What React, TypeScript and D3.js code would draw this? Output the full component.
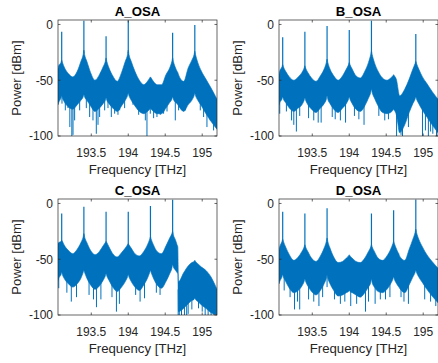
import React from "react";
import * as d3 from "d3";

const freqGrid = [
  193.05, 193.06, 193.09, 193.1, 193.11, 193.14, 193.19, 193.25, 193.31, 193.36,
  193.39, 193.4, 193.41, 193.44, 193.49, 193.55, 193.61, 193.66, 193.69, 193.7,
  193.71, 193.74, 193.79, 193.85, 193.91, 193.96, 193.99, 194.0, 194.01, 194.04,
  194.09, 194.15, 194.21, 194.26, 194.29, 194.3, 194.31, 194.34, 194.39, 194.45,
  194.51, 194.56, 194.59, 194.6, 194.61, 194.64, 194.66, 194.67, 194.68, 194.75,
  194.81, 194.86, 194.89, 194.9, 194.91, 194.94, 194.99, 195.05, 195.12, 195.2,
];

const aTop = [
  -40, -37, -34, -32, -34, -39, -44, -47, -42, -33,
  -27, -23, -27, -33, -43, -50, -45, -38, -33, -30,
  -33, -39, -46, -51, -43, -33, -27, -23, -27, -33,
  -42, -50, -54, -51, -48, -47, -48, -51, -54, -54,
  -45, -39, -33, -30, -33, -39, -42, -43, -45, -51,
  -39, -32, -27, -24, -27, -34, -42, -49, -57, -67,
];
const aBottom = [
  -72, -70, -66, -64, -66, -70, -74, -76, -72, -68,
  -65, -63, -65, -68, -73, -78, -75, -71, -68, -66,
  -68, -71, -75, -78, -73, -68, -64, -62, -64, -68,
  -73, -78, -80, -78, -76, -75, -76, -78, -80, -80,
  -75, -70, -67, -65, -67, -70, -71, -72, -73, -78,
  -72, -68, -64, -62, -64, -68, -73, -80, -87, -94,
];
const aPeakFreq = [193.1, 193.4, 193.7, 194.0, 194.6, 194.9];
const aPeakDb = [-6.5, 3.4, -10.5, 3.4, -7.5, -0.5];
const aSpikeFreq = [193.104, 193.149, 193.185, 193.21, 193.237, 193.253, 193.275, 193.343, 193.433, 193.478, 193.523, 193.568, 193.591, 193.613, 193.681, 193.726, 193.771, 193.816, 193.861, 193.884, 193.951, 194.064, 194.109, 194.141, 194.186, 194.231, 194.253, 194.298, 194.343, 194.388, 194.433, 194.478, 194.524, 194.636, 194.681, 194.726, 194.771, 194.974, 195.019, 195.064, 195.109, 195.154, 195.19];
const aSpikeDb = [-71, -77, -75, -92, -101, -99, -86, -77, -75, -83, -86, -98, -90, -83, -77, -75, -83, -80, -81, -77, -75, -72, -74, -81, -75, -86, -101, -80, -84, -83, -81, -80, -78, -86, -77, -75, -77, -77, -83, -92, -86, -95, -92];

const bTop = [
  -45, -42, -38, -36, -38, -42, -47, -50, -47, -43,
  -39, -37, -39, -43, -48, -51, -46, -40, -34, -31,
  -34, -40, -46, -50, -46, -40, -36, -34, -36, -40,
  -46, -48, -42, -34, -27, -24, -27, -34, -42, -48,
  -50, -48, -46, -45, -46, -50, -58, -62, -64, -58,
  -49, -40, -35, -33, -35, -40, -47, -53, -60, -67,
];
const bBottom = [
  -72, -70, -67, -65, -67, -70, -75, -78, -75, -72,
  -68, -66, -68, -72, -76, -79, -75, -71, -67, -64,
  -67, -71, -76, -79, -75, -71, -67, -65, -67, -71,
  -76, -78, -73, -66, -61, -58, -61, -66, -73, -79,
  -80, -79, -77, -76, -77, -82, -90, -95, -97, -90,
  -79, -71, -67, -65, -67, -71, -77, -83, -90, -97,
];
const bPeakFreq = [193.1, 193.4, 193.7, 194.0, 194.3, 194.9];
const bPeakDb = [-11.5, -6.5, -1.4, -5, 3.4, -8.6];
const bSpikeFreq = [193.06, 193.15, 193.22, 193.25, 193.285, 193.33, 193.45, 193.52, 193.58, 193.62, 193.77, 193.81, 193.88, 193.95, 194.07, 194.13, 194.2, 194.4, 194.48, 194.53, 194.64, 194.7, 194.72, 194.8, 194.99, 195.03, 195.07, 195.1, 195.13, 195.18];
const bSpikeDb = [-80, -78, -86, -90, -96, -82, -84, -86, -88, -88, -83, -85, -86, -88, -82, -85, -90, -82, -86, -85, -101, -99, -101, -92, -100, -95, -101, -96, -98, -101];

const cTop = [
  -36, -35, -34, -33, -34, -38, -42, -45, -41, -35,
  -30, -27, -30, -35, -42, -46, -43, -38, -35, -34,
  -35, -39, -45, -48, -44, -40, -37, -36, -37, -40,
  -45, -47, -43, -37, -32, -30, -32, -37, -43, -45,
  -38, -31, -27, -25, -28, -33, -37, -39, -70, -62,
  -56, -53, -52, -51, -52, -54, -57, -60, -66, -77,
];
const cBottom = [
  -69, -67, -64, -62, -64, -68, -72, -75, -72, -67,
  -62, -60, -62, -67, -73, -77, -74, -69, -65, -63,
  -65, -69, -75, -79, -75, -70, -66, -64, -66, -70,
  -75, -78, -73, -67, -62, -60, -62, -67, -73, -76,
  -70, -63, -58, -55, -57, -60, -62, -63, -97, -94,
  -90, -87, -86, -85, -86, -88, -91, -94, -98, -100,
];
const cPeakFreq = [193.1, 193.4, 193.7, 194.0, 194.3, 194.6];
const cPeakDb = [-9, -3, -7.5, -7.5, -2.3, 3.4];
const cSpikeFreq = [193.06, 193.17, 193.23, 193.3, 193.47, 193.53, 193.57, 193.63, 193.78, 193.84, 193.88, 194.1, 194.16, 194.22, 194.38, 194.43, 194.675, 194.69, 194.72, 194.76, 194.79, 194.81, 194.86, 194.95, 195.0, 195.04, 195.08, 195.12, 195.16, 195.2];
const cSpikeDb = [-76, -80, -88, -84, -82, -86, -93, -86, -84, -97, -90, -82, -88, -85, -80, -82, -101, -101, -100, -100, -101, -99, -95, -94, -97, -100, -101, -101, -101, -100];

const dTop = [
  -42, -39, -34, -32, -34, -39, -46, -51, -48, -43,
  -39, -37, -39, -43, -49, -52, -47, -40, -34, -31,
  -34, -40, -48, -53, -52, -49, -47, -46, -47, -49,
  -52, -53, -49, -43, -39, -37, -39, -43, -49, -51,
  -47, -41, -36, -34, -36, -41, -44, -45, -47, -51,
  -41, -32, -26, -23, -26, -32, -39, -46, -52, -58,
];
const dBottom = [
  -72, -70, -66, -64, -66, -70, -76, -80, -78, -74,
  -70, -68, -70, -74, -79, -82, -78, -72, -67, -64,
  -67, -72, -78, -83, -82, -80, -79, -78, -79, -80,
  -82, -84, -80, -75, -71, -68, -71, -75, -79, -80,
  -77, -72, -68, -66, -68, -72, -74, -75, -76, -80,
  -73, -66, -62, -60, -62, -66, -71, -77, -83, -89,
];
const dPeakFreq = [193.1, 193.4, 193.7, 194.3, 194.6, 194.9];
const dPeakDb = [-7.4, -9, -4.4, -9, -6, 3.6];
const dSpikeFreq = [193.12, 193.2, 193.26, 193.3, 193.33, 193.45, 193.52, 193.59, 193.64, 193.7, 193.8, 193.88, 193.94, 194.02, 194.1, 194.22, 194.26, 194.35, 194.42, 194.49, 194.55, 194.7, 194.74, 194.8, 195.02, 195.1, 195.17];
const dSpikeDb = [-78, -84, -95, -88, -95, -86, -88, -92, -84, -75, -86, -90, -88, -92, -90, -97, -88, -90, -86, -86, -84, -84, -88, -90, -86, -88, -92];

const panelTitles = ["A_OSA", "B_OSA", "C_OSA", "D_OSA"];
const xTicks = [193.5, 194, 194.5, 195];
const xTickLabels = ["193.5", "194", "194.5", "195"];
const yTicks = [0, -50, -100];
const yTickLabels = ["0", "-50", "-100"];
const xLimits = [193.05, 195.2];
const yLimits = [-100, 4];
const xLabel = "Frequency [THz]";
const yLabel = "Power [dBm]";

const series = [
  { top: aTop, bottom: aBottom, peakF: aPeakFreq, peakDb: aPeakDb, spikeF: aSpikeFreq, spikeDb: aSpikeDb },
  { top: bTop, bottom: bBottom, peakF: bPeakFreq, peakDb: bPeakDb, spikeF: bSpikeFreq, spikeDb: bSpikeDb },
  { top: cTop, bottom: cBottom, peakF: cPeakFreq, peakDb: cPeakDb, spikeF: cSpikeFreq, spikeDb: cSpikeDb },
  { top: dTop, bottom: dBottom, peakF: dPeakFreq, peakDb: dPeakDb, spikeF: dSpikeFreq, spikeDb: dSpikeDb },
];

const W = 159;
const H = 116;
const LEFTS = [58, 279];
const TOPS = [20, 199];
const BLUE = "#0072BD";
const AX = "#262626";
const FONT = "'Liberation Sans', Arial, Helvetica, sans-serif";

function Panel({ idx }: { idx: number }) {
  const s = series[idx];
  const left = LEFTS[idx % 2];
  const top = TOPS[Math.floor(idx / 2)];
  const x = d3.scaleLinear().domain(xLimits).range([0, W]);
  const y = d3.scaleLinear().domain(yLimits).range([H, 0]);
  const topAt = d3.scaleLinear().domain(freqGrid).range(s.top).clamp(true);
  const botAt = d3.scaleLinear().domain(freqGrid).range(s.bottom).clamp(true);
  const area = d3
    .area<number>()
    .x((f) => x(f))
    .y0((_, i) => y(s.bottom[i]))
    .y1((_, i) => y(s.top[i]))
    .curve(d3.curveMonotoneX);
  const clipId = `clip-${idx}`;
  const tl = 2.5;
  return (
    <g transform={`translate(${left},${top})`}>
      <defs>
        <clipPath id={clipId}>
          <rect x={0} y={0} width={W} height={H} />
        </clipPath>
      </defs>
      <rect x={0} y={0} width={W} height={H} fill="#fff" />
      <g clipPath={`url(#${clipId})`}>
        <path d={area(freqGrid) || ""} fill={BLUE} stroke={BLUE} strokeWidth={0.6} />
        {s.spikeF.map((f, i) => (
          <line key={`s${i}`} x1={x(f)} x2={x(f)} y1={y(botAt(f) + 3)} y2={y(s.spikeDb[i])} stroke={BLUE} strokeWidth={1} />
        ))}
        {s.peakF.map((f, i) => (
          <line key={`p${i}`} x1={x(f)} x2={x(f)} y1={y(topAt(f) - 3)} y2={y(s.peakDb[i])} stroke={BLUE} strokeWidth={1.2} />
        ))}
      </g>
      <rect x={0} y={0} width={W} height={H} fill="none" stroke={AX} strokeWidth={0.7} />
      {xTicks.map((t, i) => (
        <g key={`xt${i}`}>
          <line x1={x(t)} x2={x(t)} y1={H} y2={H - tl} stroke={AX} strokeWidth={0.7} />
          <line x1={x(t)} x2={x(t)} y1={0} y2={tl} stroke={AX} strokeWidth={0.7} />
          <text x={x(t)} y={H + 21} textAnchor="middle" fontSize={12} fill={AX} fontFamily={FONT}>
            {xTickLabels[i]}
          </text>
        </g>
      ))}
      {yTicks.map((t, i) => (
        <g key={`yt${i}`}>
          <line x1={0} x2={tl} y1={y(t)} y2={y(t)} stroke={AX} strokeWidth={0.7} />
          <line x1={W} x2={W - tl} y1={y(t)} y2={y(t)} stroke={AX} strokeWidth={0.7} />
          <text x={-5} y={y(t)} dy="0.36em" textAnchor="end" fontSize={12} fill={AX} fontFamily={FONT}>
            {yTickLabels[i]}
          </text>
        </g>
      ))}
      <text x={W / 2} y={-4} textAnchor="middle" fontSize={13.2} fontWeight="bold" fill="#000" fontFamily={FONT}>
        {panelTitles[idx]}
      </text>
      <text x={W / 2} y={H + 38} textAnchor="middle" fontSize={13.2} fill={AX} fontFamily={FONT}>
        {xLabel}
      </text>
      <text
        transform={`translate(${-37.5},${H / 2}) rotate(-90)`}
        textAnchor="middle"
        fontSize={13.2}
        fill={AX}
        fontFamily={FONT}
      >
        {yLabel}
      </text>
    </g>
  );
}

export default function App() {
  return (
    <svg
      width={438}
      height={363}
      viewBox="0 0 438 363"
      style={{ position: "absolute", left: 0, top: 0, background: "#fff" }}
    >
      <rect x={0} y={0} width={438} height={363} fill="#fff" />
      {[0, 1, 2, 3].map((i) => (
        <Panel key={i} idx={i} />
      ))}
    </svg>
  );
}
